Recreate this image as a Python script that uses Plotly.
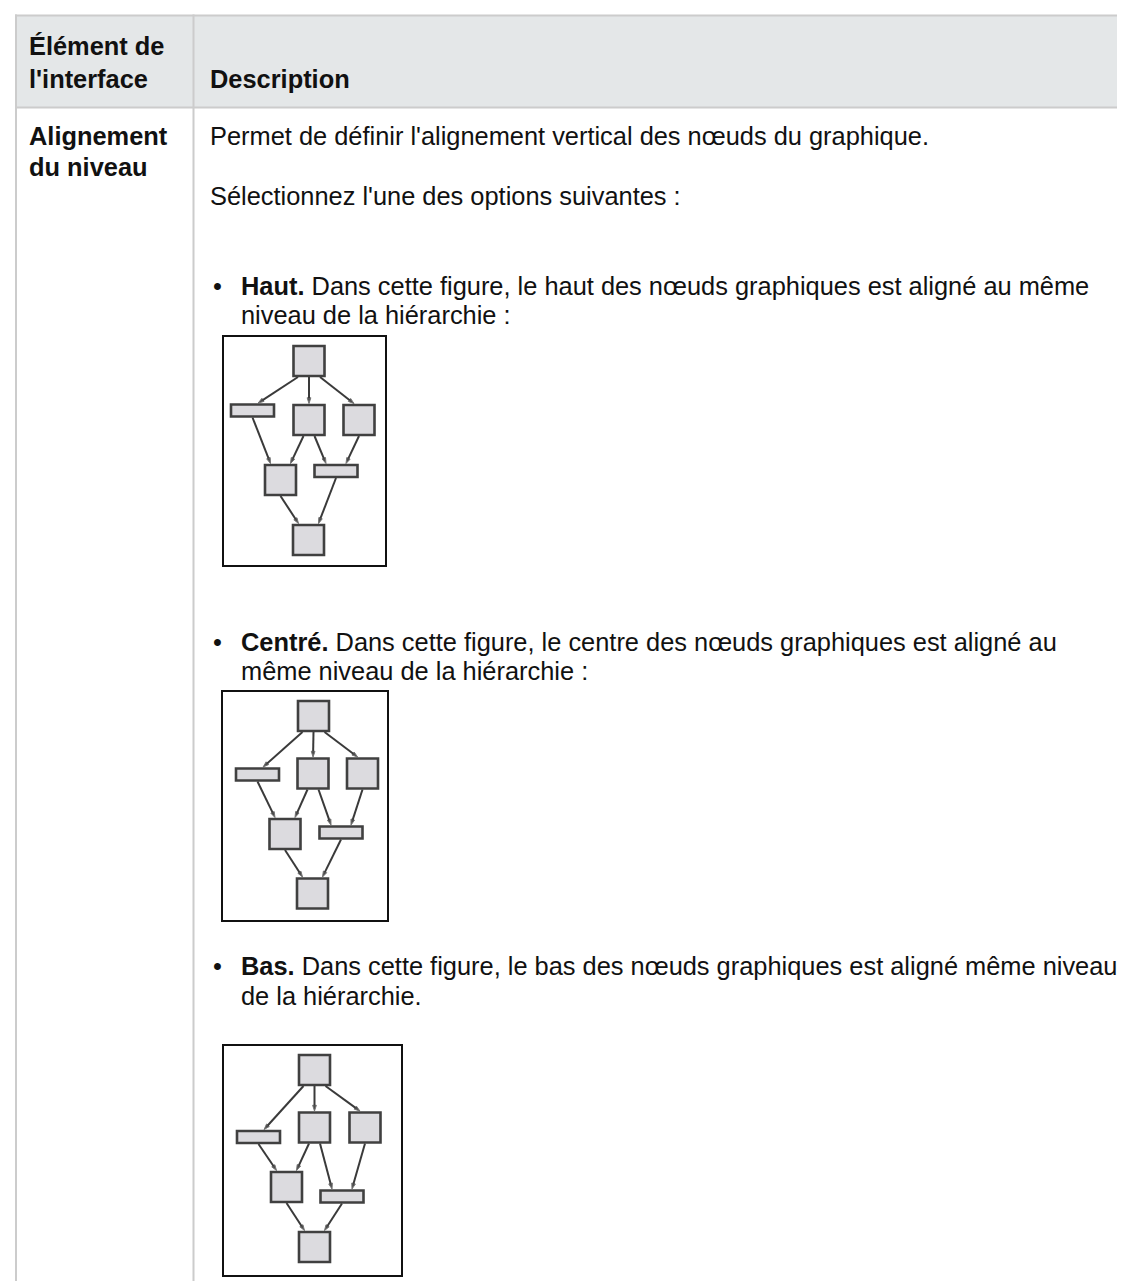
import plotly.graph_objects as go

W, H = 1125, 1281

# ---------------- text content ----------------
header_col1 = ["Élément de", "l'interface"]
header_col2 = ["Description"]
row_label = ["Alignement", "du niveau"]
intro_lines = ["Permet de définir l'alignement vertical des nœuds du graphique.",
               "Sélectionnez l'une des options suivantes :"]
option_names = ["Haut.", "Centré.", "Bas."]
option_line1 = [" Dans cette figure, le haut des nœuds graphiques est aligné au même",
                " Dans cette figure, le centre des nœuds graphiques est aligné au",
                " Dans cette figure, le bas des nœuds graphiques est aligné même niveau"]
option_line2 = ["niveau de la hiérarchie :",
                "même niveau de la hiérarchie :",
                "de la hiérarchie."]

# ---------------- diagram data (local units, origin = frame top-left) ----------------
node_kind = ["sq", "flat", "sq", "sq", "sq", "flat", "sq"]
edge_src = [0, 0, 0, 1, 2, 2, 3, 4, 5]
edge_tgt = [1, 2, 3, 4, 4, 5, 5, 6, 6]

haut_cx = [85, 28.5, 85, 135, 56.5, 112, 84.5]
haut_cy = [24, 73.5, 83, 83, 143, 134, 203]
centre_cx = [90.5, 34.5, 90, 139.5, 62, 118, 89.5]
centre_cy = [24, 82.5, 81.5, 81.5, 142, 140.5, 201.5]
bas_cx = [90.5, 34.5, 90.5, 141, 62.5, 118, 90.5]
bas_cy = [24, 91, 81.5, 81.5, 141, 150.5, 201]

diagram_cx = [haut_cx, centre_cx, bas_cx]
diagram_cy = [haut_cy, centre_cy, bas_cy]
# frame boxes in page pixels: left, right, top, bottom
frame_left = [216, 215, 216]
frame_right = [377, 379, 393]
frame_top = [329, 684, 1038]
frame_bottom = [557, 912, 1267]

# ---------------- layout constants ----------------
FONT = "Liberation Sans, Arial, sans-serif"
FS = 25.4
TXT = "#111111"
BORDER = "#cccccc"
HEAD_BG = "#e4e7e8"
NODE_FILL = "#dcdbdf"
NODE_LINE = "#404040"
EDGE_LINE = "#3a3a3a"
SIZE = {"sq": (31, 30), "flat": (43, 12)}

fig = go.Figure()

shapes = []
annotations = []

# table background & borders
shapes.append(dict(type="rect", xref="x", yref="y", x0=8, x1=W + 5, y0=8, y1=99,
                   fillcolor=HEAD_BG, line=dict(width=0), layer="below"))
for yy in [7.5, 99.5]:
    shapes.append(dict(type="line", xref="x", yref="y", x0=7, x1=W + 5, y0=yy, y1=yy,
                       line=dict(color=BORDER, width=2)))
for xx in [8, 185.5]:
    shapes.append(dict(type="line", xref="x", yref="y", x0=xx, x1=xx, y0=6.5, y1=H + 5,
                       line=dict(color=BORDER, width=2)))


def txt(x, y, s):
    annotations.append(dict(x=x, y=y, xref="x", yref="y", text=s, showarrow=False,
                            xanchor="left", yanchor="middle",
                            font=dict(family=FONT, size=FS, color=TXT)))


COL1_X, COL2_X = 19, 200
txt(COL1_X, 38, "<b>%s</b>" % header_col1[0])
txt(COL1_X, 71, "<b>%s</b>" % header_col1[1])
txt(COL2_X, 71, "<b>%s</b>" % header_col2[0])
txt(COL1_X, 128, "<b>%s</b>" % row_label[0])
txt(COL1_X, 159, "<b>%s</b>" % row_label[1])
txt(COL2_X, 128, intro_lines[0])
txt(COL2_X, 188, intro_lines[1])

line1_y = [278, 634, 958]
line2_y = [307, 663, 988]
BULLET_X, OPT_X = 203, 231
for i in range(3):
    txt(BULLET_X, line1_y[i], "•")
    txt(OPT_X, line1_y[i], "<b>%s</b>%s" % (option_names[i], option_line1[i]))
    txt(OPT_X, line2_y[i], option_line2[i])

layout_axes = {}
layout_axes["xaxis"] = dict(range=[0, W], visible=False, domain=[0, 1])
layout_axes["yaxis"] = dict(range=[H, 0], visible=False, domain=[0, 1])

for d in range(3):
    n = d + 2
    xa, ya = "x%d" % n, "y%d" % n
    fw = frame_right[d] - frame_left[d]
    fh = frame_bottom[d] - frame_top[d]
    layout_axes["xaxis%d" % n] = dict(domain=[frame_left[d] / W, frame_right[d] / W],
                                      range=[0, fw], showline=True, mirror=True,
                                      linecolor="#111111", linewidth=2, showgrid=False,
                                      zeroline=False, showticklabels=False, ticks="",
                                      anchor=ya)
    layout_axes["yaxis%d" % n] = dict(domain=[1 - frame_bottom[d] / H, 1 - frame_top[d] / H],
                                      range=[fh, 0], showline=True, mirror=True,
                                      linecolor="#111111", linewidth=2, showgrid=False,
                                      zeroline=False, showticklabels=False, ticks="",
                                      anchor=xa)
    cx, cy = diagram_cx[d], diagram_cy[d]
    # nodes
    for k, kind in enumerate(node_kind):
        w, h = SIZE[kind]
        shapes.append(dict(type="rect", xref=xa, yref=ya,
                           x0=cx[k] - w / 2, x1=cx[k] + w / 2,
                           y0=cy[k] - h / 2, y1=cy[k] + h / 2,
                           fillcolor=NODE_FILL, line=dict(color=NODE_LINE, width=2.6)))
    # ports
    out_off, in_off = {}, {}
    for s in set(edge_src):
        es = sorted([e for e in range(len(edge_src)) if edge_src[e] == s],
                    key=lambda e: cx[edge_tgt[e]])
        for i, e in enumerate(es):
            out_off[e] = (i - (len(es) - 1) / 2) * 11
    for t in set(edge_tgt):
        es = sorted([e for e in range(len(edge_tgt)) if edge_tgt[e] == t],
                    key=lambda e: cx[edge_src[e]])
        for i, e in enumerate(es):
            if len(es) == 1:
                in_off[e] = 0.1 * (cx[edge_src[e]] - cx[t])
            else:
                in_off[e] = (i - (len(es) - 1) / 2) * 20
    for e in range(len(edge_src)):
        s, t = edge_src[e], edge_tgt[e]
        ws, hs = SIZE[node_kind[s]]
        wt, ht = SIZE[node_kind[t]]
        so = max(-ws / 2 + 3, min(ws / 2 - 3, out_off[e]))
        to = max(-wt / 2 + 3, min(wt / 2 - 3, in_off[e]))
        x0, y0 = cx[s] + so, cy[s] + hs / 2 + 1
        x1, y1 = cx[t] + to, cy[t] - ht / 2 - 1.5
        fig.add_trace(go.Scatter(x=[x0, x1], y=[y0, y1], xaxis=xa, yaxis=ya,
                                 mode="lines+markers",
                                 line=dict(color=EDGE_LINE, width=2),
                                 marker=dict(symbol="arrow", angleref="previous",
                                             size=[0, 6], color="#000000"),
                                 hoverinfo="skip", showlegend=False))

fig.update_layout(width=W, height=H, margin=dict(l=0, r=0, t=0, b=0),
                  paper_bgcolor="white", plot_bgcolor="rgba(0,0,0,0)",
                  shapes=shapes, annotations=annotations, showlegend=False,
                  **layout_axes)

fig.write_html("out.html")
